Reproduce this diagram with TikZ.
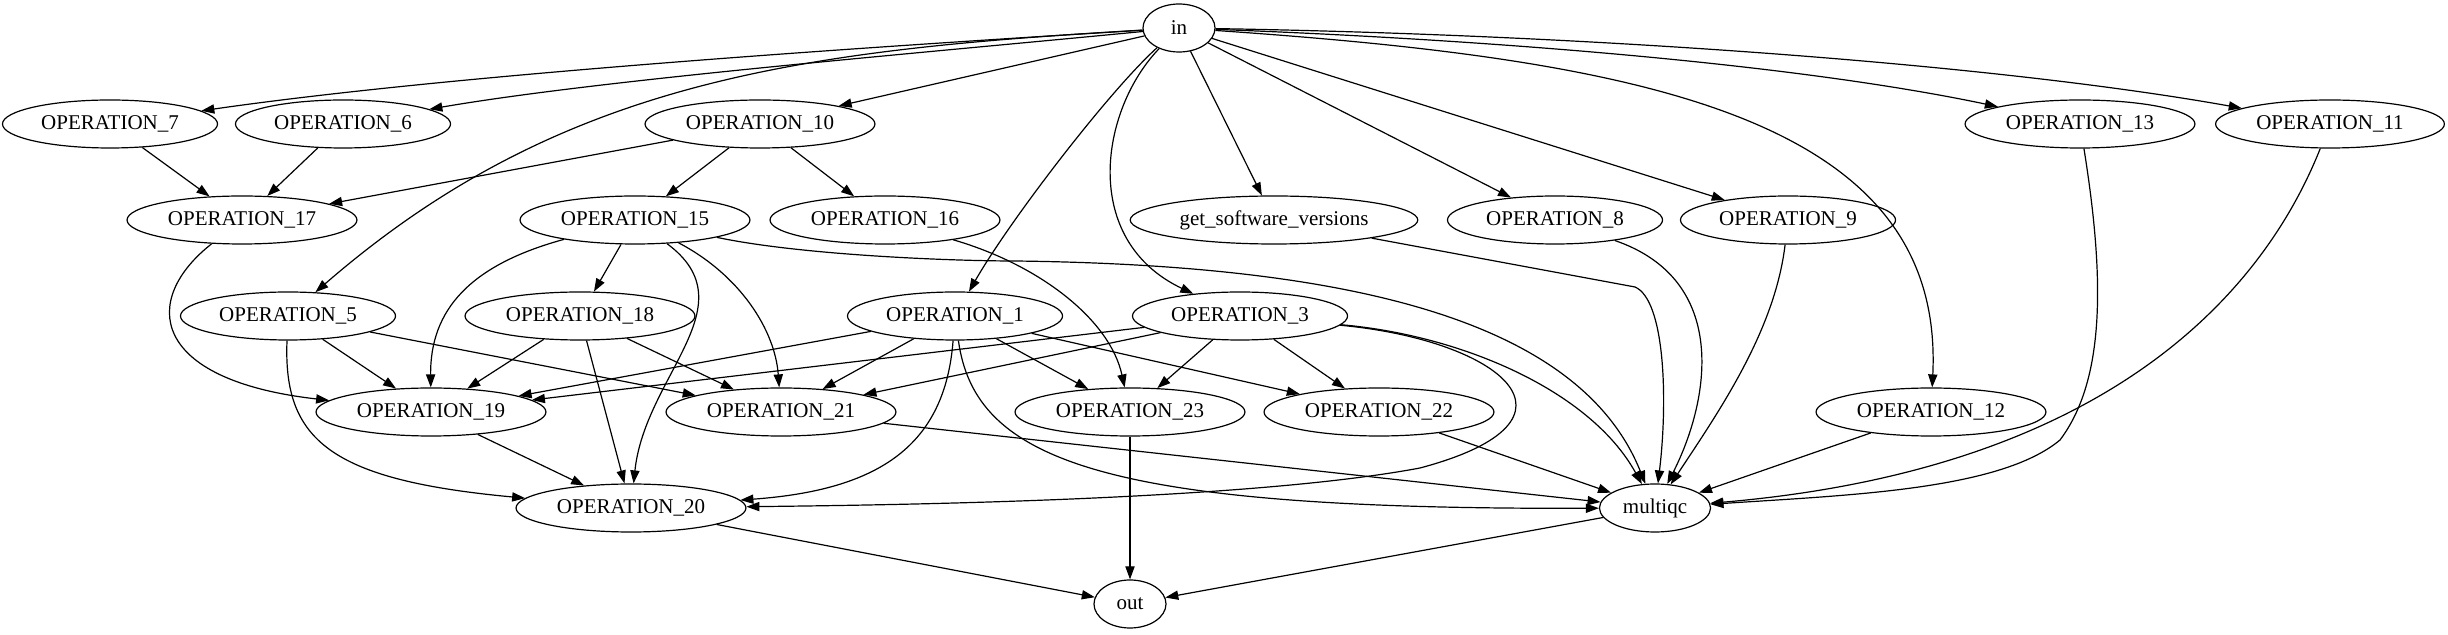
\documentclass[tikz,border=0pt]{standalone}
\usepackage{fontspec}
\setmainfont{Liberation Serif}
\usetikzlibrary{shapes.geometric, arrows.meta}

\begin{document}
\begin{tikzpicture}[x=0.5pt, y=-0.5pt, line width=0.6pt,
  >={Triangle[length=6.5pt, width=4.6pt]},
  op/.style={draw, ellipse, inner xsep=3.6pt, inner ysep=2pt,
    minimum width=36pt, minimum height=24pt,
    font=\fontsize{10.5}{12}\selectfont}]
  \useasboundingbox (0,0) rectangle (2448,635);

  % row 1
  \node[op] (in) at (1179,28) {in};
  % row 2
  \node[op] (op7) at (110,124) {OPERATION\_7};
  \node[op] (op6) at (343,124) {OPERATION\_6};
  \node[op] (op10) at (760,124) {OPERATION\_10};
  \node[op] (op13) at (2080,124) {OPERATION\_13};
  \node[op] (op11) at (2330,124) {OPERATION\_11};
  % row 3
  \node[op] (op17) at (242,220) {OPERATION\_17};
  \node[op] (op15) at (635,220) {OPERATION\_15};
  \node[op] (op16) at (885,220) {OPERATION\_16};
  \node[op] (gsv) at (1274,220) {get\_software\_versions};
  \node[op] (op8) at (1555,220) {OPERATION\_8};
  \node[op] (op9) at (1788,220) {OPERATION\_9};
  % row 4
  \node[op] (op5) at (288,316) {OPERATION\_5};
  \node[op] (op18) at (580,316) {OPERATION\_18};
  \node[op] (op1) at (955,316) {OPERATION\_1};
  \node[op] (op3) at (1240,316) {OPERATION\_3};
  % row 5
  \node[op] (op19) at (431,412) {OPERATION\_19};
  \node[op] (op21) at (781,412) {OPERATION\_21};
  \node[op] (op23) at (1130,412) {OPERATION\_23};
  \node[op] (op22) at (1379,412) {OPERATION\_22};
  \node[op] (op12) at (1931,412) {OPERATION\_12};
  % row 6
  \node[op] (op20) at (631,508) {OPERATION\_20};
  \node[op] (multiqc) at (1655,508) {multiqc};
  % row 7
  \node[op] (out) at (1130,604) {out};

  % from in
  \draw[->] (in) .. controls (850,48) and (450,75) .. (op7);
  \draw[->] (in) .. controls (900,55) and (600,80) .. (op6);
  \draw[->] (in) -- (op10);
  \draw[->] (in) .. controls (800,50) and (560,80) .. (op5);
  \draw[->] (in) .. controls (1110,90) and (1010,220) .. (op1);
  \draw[->] (in) .. controls (1100,110) and (1080,240) .. (op3);
  \draw[->] (in) -- (gsv);
  \draw[->] (in) -- (op8);
  \draw[->] (in) -- (op9);
  \draw[->] (in) .. controls (1650,60) and (1945,120) .. (op12);
  \draw[->] (in) .. controls (1500,40) and (1800,65) .. (op13);
  \draw[->] (in) .. controls (1600,35) and (2000,65) .. (op11);

  % second row
  \draw[->] (op7) -- (op17);
  \draw[->] (op6) -- (op17);
  \draw[->] (op10) -- (op17);
  \draw[->] (op10) -- (op15);
  \draw[->] (op10) -- (op16);
  \draw[->] (op13) .. controls (2105,280) and (2105,380) .. (2060,440)
    .. controls (2000,490) and (1850,495) .. (multiqc);
  \draw[->] (op11) .. controls (2260,300) and (2100,470) .. (multiqc);

  % third row
  \draw[->] (op17) .. controls (140,300) and (150,380) .. (op19);
  \draw[->] (op15) -- (op18);
  \draw[->] (op15) .. controls (470,265) and (430,310) .. (op19);
  \draw[->] (op15) .. controls (750,305) and (645,375) .. (op20);
  \draw[->] (op15) .. controls (740,275) and (775,330) .. (op21);
  \draw[->] (op15) .. controls (800,255) and (950,261) .. (1015,261)
    .. controls (1350,265) and (1580,320) .. (multiqc);
  \draw[->] (op16) .. controls (1040,265) and (1110,320) .. (op23);
  \draw[->] (gsv) -- (1635,287) .. controls (1665,300) and (1668,400) .. (multiqc);
  \draw[->] (op8) .. controls (1730,280) and (1710,400) .. (multiqc);
  \draw[->] (op9) .. controls (1775,330) and (1720,410) .. (multiqc);

  % fourth row
  \draw[->] (op5) -- (op19);
  \draw[->] (op5) -- (op21);
  \draw[->] (op5) .. controls (283,440) and (330,480) .. (op20);
  \draw[->] (op18) -- (op19);
  \draw[->] (op18) -- (op21);
  \draw[->] (op18) -- (op20);
  \draw[->] (op1) -- (op19);
  \draw[->] (op1) -- (op21);
  \draw[->] (op1) -- (op23);
  \draw[->] (op1) -- (op22);
  \draw[->] (op1) .. controls (945,445) and (880,490) .. (op20);
  \draw[->] (op1) .. controls (975,460) and (1100,510) .. (multiqc);
  \draw[->] (op3) -- (op19);
  \draw[->] (op3) -- (op21);
  \draw[->] (op3) -- (op23);
  \draw[->] (op3) -- (op22);
  \draw[->] (op3) .. controls (1500,340) and (1600,420) .. (1420,468)
    .. controls (1250,500) and (900,505) .. (op20);
  \draw[->] (op3) .. controls (1460,335) and (1590,390) .. (multiqc);

  % fifth row and below
  \draw[->] (op19) -- (op20);
  \draw[->] (op21) -- (multiqc);
  \draw[->] (op23) -- (out);
  \draw[->] (op22) -- (multiqc);
  \draw[->] (op12) -- (multiqc);
  \draw[->] (op20) -- (out);
  \draw[->] (multiqc) -- (out);
\end{tikzpicture}
\end{document}
